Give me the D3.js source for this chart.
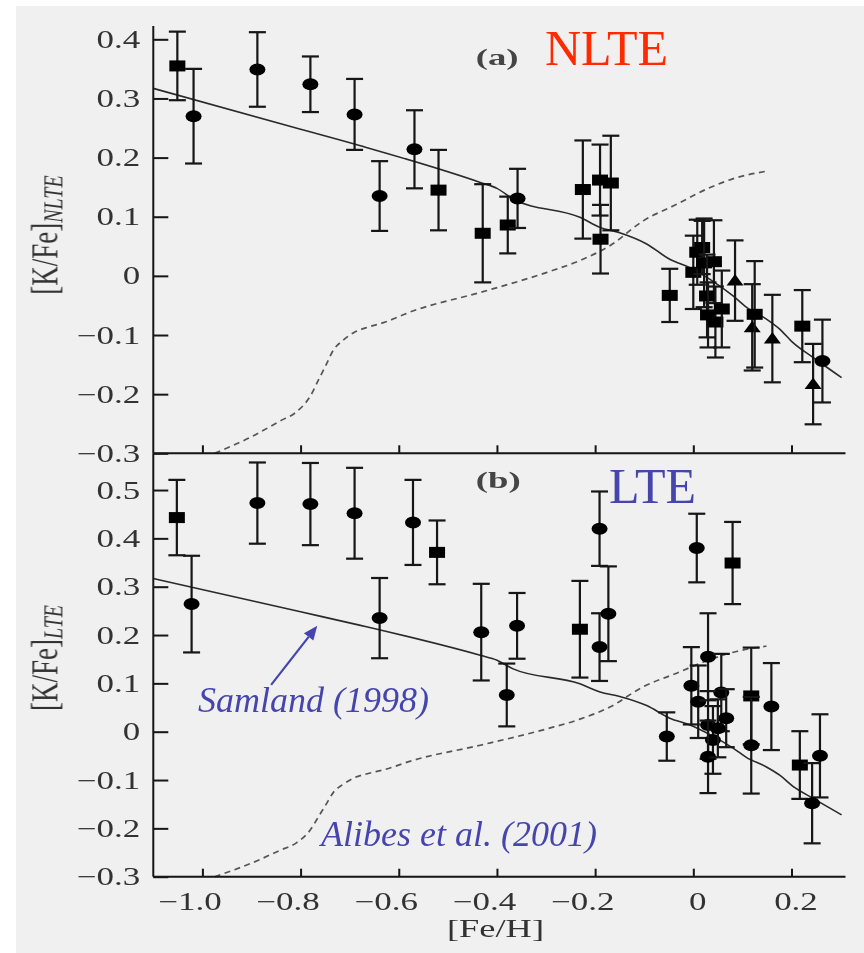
<!DOCTYPE html>
<html>
<head>
<meta charset="utf-8">
<script src="https://cdn.jsdelivr.net/npm/d3@7"></script>
<style>
  body { margin: 0; background: #fff; }
  svg text { font-family: "Liberation Serif", "Times New Roman", serif; }
</style>
</head>
<body>
<svg id="chart" width="864" height="953"></svg>
<script>
// ---- axis ticks ----
const fehTicks  = [-1.0, -0.8, -0.6, -0.4, -0.2, 0, 0.2];
const nlteTicks = [0.4, 0.3, 0.2, 0.1, 0, -0.1, -0.2, -0.3];
const lteTicks  = [0.5, 0.4, 0.3, 0.2, 0.1, 0, -0.1, -0.2, -0.3];

// ---- panel (a): [K/Fe] NLTE ----
const nlteFeh   = [-1.051, -1.018, -0.888, -0.780, -0.690, -0.639, -0.568, -0.519, -0.429, -0.378, -0.358,
                   -0.225, -0.190, -0.168, -0.189, -0.048,
                   0.000, 0.008, 0.018, 0.022, 0.042, 0.028, 0.030, 0.045, 0.058,
                   0.085, 0.120, 0.161, 0.244, 0.125, 0.222, 0.263];
const nlteKFe   = [0.355, 0.270, 0.349, 0.324, 0.273, 0.135, 0.214, 0.145, 0.072, 0.086, 0.131,
                   0.146, 0.162, 0.157, 0.062, -0.033,
                   0.006, 0.040, 0.048, 0.022, 0.024, -0.034, -0.066, -0.078, -0.056,
                   -0.008, -0.087, -0.106, -0.183, -0.065, -0.085, -0.144];
const nlteErr   = [0.058, 0.080, 0.063, 0.047, 0.060, 0.059, 0.066, 0.068, 0.083, 0.048, 0.050,
                   0.083, 0.060, 0.080, 0.058, 0.045,
                   0.062, 0.055, 0.045, 0.075, 0.070, 0.070, 0.055, 0.060, 0.065,
                   0.068, 0.073, 0.074, 0.068, 0.090, 0.061, 0.070];
const nlteShape = ["s", "c", "c", "c", "c", "c", "c", "s", "s", "s", "c",
                   "s", "s", "s", "s", "s",
                   "s", "s", "s", "s", "s", "s", "s", "s", "s",
                   "t", "t", "t", "t", "s", "s", "c"];

// ---- panel (b): [K/Fe] LTE ----
const lteFeh   = [-1.052, -1.022, -0.888, -0.780, -0.690, -0.639, -0.571, -0.522, -0.432, -0.380, -0.359,
                  -0.231, -0.191, -0.191, -0.173, -0.054, 0.007, 0.080,
                  -0.004, 0.010, 0.030, 0.057, 0.067, 0.030, 0.040, 0.030, 0.050,
                  0.118, 0.118, 0.159, 0.217, 0.258, 0.242];
const lteKFe   = [0.443, 0.264, 0.473, 0.471, 0.452, 0.235, 0.433, 0.371, 0.206, 0.076, 0.219,
                  0.212, 0.420, 0.175, 0.244, -0.010, 0.380, 0.349,
                  0.095, 0.062, 0.155, 0.081, 0.028, 0.014, -0.017, -0.052, 0.007,
                  0.074, -0.028, 0.052, -0.069, -0.050, -0.148];
const lteErr   = [0.078, 0.100, 0.084, 0.085, 0.094, 0.083, 0.088, 0.066, 0.100, 0.065, 0.068,
                  0.100, 0.077, 0.070, 0.098, 0.050, 0.071, 0.085,
                  0.080, 0.075, 0.090, 0.080, 0.060, 0.070, 0.070, 0.075, 0.060,
                  0.100, 0.100, 0.090, 0.070, 0.086, 0.083];
const lteShape = ["s", "c", "c", "c", "c", "c", "c", "s", "c", "c", "c",
                  "s", "c", "c", "c", "c", "c", "s",
                  "c", "c", "c", "c", "c", "c", "c", "c", "c",
                  "s", "c", "c", "s", "c", "c"];

// ---- chemical evolution models ----
const samlandFeh = [-1.10, -0.80, -0.678, -0.434, -0.400, -0.367, -0.231, -0.190, -0.150, -0.095, -0.048,
                    -0.007, 0.034, 0.081, 0.108, 0.149, 0.176, 0.203, 0.244, 0.302];
const samlandKFe = [0.317, 0.248, 0.220, 0.158, 0.148, 0.130, 0.099, 0.082, 0.073, 0.054, 0.028,
                    0.014, -0.006, -0.034, -0.053, -0.073, -0.090, -0.113, -0.138, -0.172];
const alibesFeh  = [-0.975, -0.900, -0.841, -0.810, -0.780, -0.763, -0.749, -0.732, -0.715, -0.692, -0.664,
                    -0.631, -0.570, -0.434, -0.298, -0.231, -0.170, -0.102, -0.034, 0.033, 0.088, 0.149];
const alibesKFe  = [-0.300, -0.272, -0.245, -0.231, -0.203, -0.175, -0.152, -0.124, -0.110, -0.096, -0.087,
                    -0.079, -0.059, -0.028, 0.006, 0.026, 0.051, 0.093, 0.121, 0.149, 0.166, 0.177];

// ---- layout ----
const SX = 1.4;           // the figure typography is set wide
const ink = "#141414";
const labelInk = "#333";
const noteBlue = "#4545ad";

const svg = d3.select("#chart");
svg.append("defs").append("filter").attr("id", "soft")
  .attr("x", "-5%").attr("y", "-5%").attr("width", "110%").attr("height", "110%")
  .append("feGaussianBlur").attr("stdDeviation", 0.5);

svg.append("rect").attr("x", 16).attr("y", 6).attr("width", 864 - 16).attr("height", 953 - 6)
   .attr("fill", "#f0f0f0");

const x = d3.scaleLinear().domain([-1.1, 0.31]).range([153.3, 845.5]);
const yTop = d3.scaleLinear().domain([-0.3, 0.4225]).range([453.3, 26]);
const yBot = d3.scaleLinear().domain([-0.3, 0.576]).range([876.7, 453.3]);

const fig = svg.append("g").attr("filter", "url(#soft)");

function fmt(d) {
  if (d === 0) return "0";
  return (d < 0 ? "\u2212" : "") + Math.abs(d).toFixed(1);
}

function drawPanel(y, ticks, feh, val, err, shape, withXLabels) {
  const g = fig.append("g");

  // model curves
  const curve = d3.line().curve(d3.curveMonotoneX).x(d => x(d[0])).y(d => y(d[1]));
  g.append("path")
    .datum(d3.zip(samlandFeh, samlandKFe))
    .attr("d", curve).attr("fill", "none").attr("stroke", "#2a2a2a").attr("stroke-width", 1.6);
  g.append("path")
    .datum(d3.zip(alibesFeh, alibesKFe))
    .attr("d", curve).attr("fill", "none").attr("stroke", "#555").attr("stroke-width", 1.7)
    .attr("stroke-dasharray", "6,4.5");

  // left axis, ticks pointing inward
  const ay = g.append("g").attr("transform", `translate(${x.range()[0]},0)`)
    .call(d3.axisLeft(y).tickValues(ticks).tickSizeInner(-15).tickSizeOuter(0).tickPadding(0).tickFormat(fmt));
  ay.select(".domain").remove();
  ay.selectAll(".tick line").attr("stroke", ink).attr("stroke-width", 2);
  ay.selectAll(".tick text")
    .attr("x", -13 / SX).attr("transform", `scale(${SX},1)`)
    .attr("font-size", 25).attr("fill", labelInk);

  // bottom axis, ticks pointing up
  const ax = g.append("g").attr("transform", `translate(0,${y.range()[0]})`)
    .call(d3.axisBottom(x).tickValues(fehTicks).tickSizeInner(-8).tickSizeOuter(0).tickPadding(15.5).tickFormat(fmt));
  ax.select(".domain").remove();
  ax.selectAll(".tick line").attr("stroke", ink).attr("stroke-width", 2);
  if (withXLabels) {
    ax.selectAll(".tick text")
      .attr("x", d => (d < 0 ? -13 : 4) / SX).attr("transform", `scale(${SX},1)`)
      .attr("font-size", 25).attr("fill", labelInk);
  } else {
    ax.selectAll(".tick text").remove();
  }

  // frame lines
  g.append("line").attr("x1", x.range()[0]).attr("x2", x.range()[1])
    .attr("y1", y.range()[0]).attr("y2", y.range()[0]).attr("stroke", ink).attr("stroke-width", 2);
  g.append("line").attr("x1", x.range()[0]).attr("x2", x.range()[0])
    .attr("y1", y.range()[0]).attr("y2", y.range()[1]).attr("stroke", ink).attr("stroke-width", 2);

  // stars: error bars + markers
  const rows = feh.map((f, i) => ({ f, v: val[i], e: err[i], s: shape[i] }));
  const star = g.append("g").selectAll("g").data(rows).join("g");
  star.append("line")
    .attr("x1", d => x(d.f)).attr("x2", d => x(d.f))
    .attr("y1", d => y(d.v - d.e)).attr("y2", d => y(d.v + d.e))
    .attr("stroke", ink).attr("stroke-width", 2.2);
  [1, -1].forEach(sgn => {
    star.append("line")
      .attr("x1", d => x(d.f) - 8.5).attr("x2", d => x(d.f) + 8.5)
      .attr("y1", d => y(d.v + sgn * d.e)).attr("y2", d => y(d.v + sgn * d.e))
      .attr("stroke", ink).attr("stroke-width", 2.2);
  });
  star.filter(d => d.s === "s").append("rect")
    .attr("x", d => x(d.f) - 8).attr("y", d => y(d.v) - 5.5)
    .attr("width", 16).attr("height", 11).attr("fill", "#000");
  star.filter(d => d.s === "c").append("ellipse")
    .attr("cx", d => x(d.f)).attr("cy", d => y(d.v))
    .attr("rx", 8).attr("ry", 6).attr("fill", "#000");
  star.filter(d => d.s === "t").append("path")
    .attr("d", d => {
      const cx = x(d.f), cy = y(d.v);
      return `M${cx - 8.5},${cy + 5} L${cx + 8.5},${cy + 5} L${cx},${cy - 6.5} Z`;
    })
    .attr("fill", "#000");
  return g;
}

drawPanel(yTop, nlteTicks, nlteFeh, nlteKFe, nlteErr, nlteShape, false);
drawPanel(yBot, lteTicks, lteFeh, lteKFe, lteErr, lteShape, true);

// panel tags
[["(a)", 65], ["(b)", 488]].forEach(([t, by]) => {
  fig.append("text").attr("transform", `translate(475.7,${by}) scale(1.6,1)`)
    .attr("font-size", 23).attr("font-weight", "bold").attr("fill", "#444").text(t);
});

// axis titles
fig.append("text").attr("transform", `translate(495.5,937) scale(${SX},1)`)
  .attr("text-anchor", "middle").attr("font-size", 26).attr("fill", labelInk).text("[Fe/H]");

[["NLTE", 235], ["LTE", 658]].forEach(([sub, cy]) => {
  const t = fig.append("text")
    .attr("transform", `translate(57,${cy}) scale(${SX},1) rotate(-90)`)
    .attr("text-anchor", "middle").attr("font-size", 27).attr("fill", labelInk);
  t.append("tspan").text("[K/Fe]");
  t.append("tspan").attr("dy", 4).attr("font-size", 20).attr("font-style", "italic").text(sub);
});

// annotations
const notes = svg.append("g");
notes.append("text").attr("x", 545).attr("y", 65).attr("font-size", 50).attr("fill", "#ff2a00").text("NLTE");
notes.append("text").attr("x", 609).attr("y", 503).attr("font-size", 50).attr("fill", noteBlue).text("LTE");
notes.append("text").attr("x", 198).attr("y", 712).attr("font-size", 36).attr("font-style", "italic")
  .attr("fill", noteBlue).text("Samland (1998)");
notes.append("text").attr("x", 321).attr("y", 846).attr("font-size", 36).attr("font-style", "italic")
  .attr("fill", noteBlue).text("Alibes et al. (2001)");

// arrow pointing at the Samland curve
const tail = [x(-0.860), yBot(0.097)], tip = [x(-0.766), yBot(0.219)];
const ang = Math.atan2(tip[1] - tail[1], tip[0] - tail[0]);
const headLen = 14, headHalf = 6;
const base = [tip[0] - headLen * Math.cos(ang), tip[1] - headLen * Math.sin(ang)];
notes.append("line").attr("x1", tail[0]).attr("y1", tail[1]).attr("x2", base[0]).attr("y2", base[1])
  .attr("stroke", noteBlue).attr("stroke-width", 2.2);
notes.append("path")
  .attr("d", `M${tip[0]},${tip[1]} L${base[0] + headHalf * Math.sin(ang)},${base[1] - headHalf * Math.cos(ang)} L${base[0] - headHalf * Math.sin(ang)},${base[1] + headHalf * Math.cos(ang)} Z`)
  .attr("fill", noteBlue);
</script>
</body>
</html>
